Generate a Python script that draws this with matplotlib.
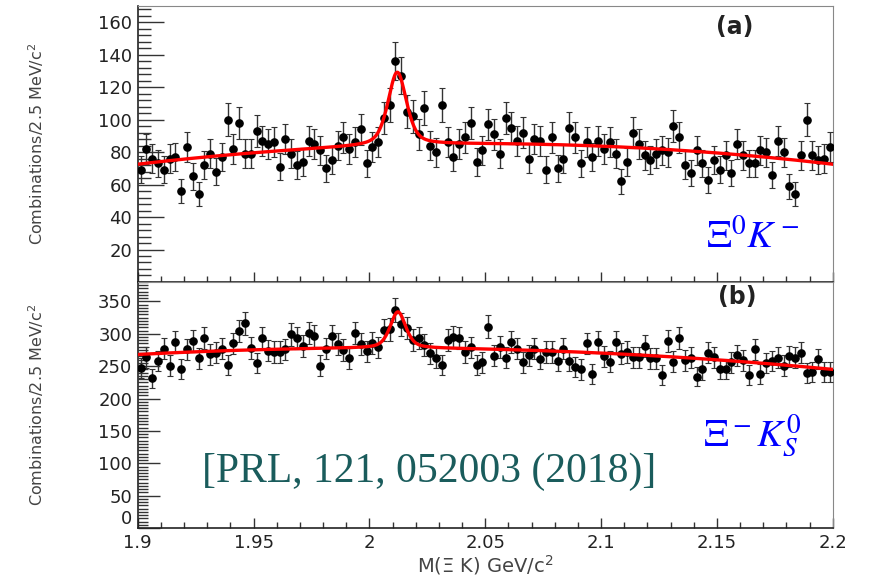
import matplotlib
matplotlib.use("Agg")
import matplotlib.pyplot as plt
import numpy as np
from matplotlib.ticker import MultipleLocator, FixedLocator

# binning: 2.5 MeV bins from 1.9 to 2.2 GeV
bin_lo = 1.9
bin_w = 0.0025
n_bins = 120

# (a) Xi0 K- combinations per bin
counts_a = [69, 82, 76, 73, 69, 76, 77, 56, 83, 65, 54, 72, 79, 68, 77, 100, 82, 98, 79, 79,
            93, 87, 85, 86, 71, 88, 79, 72, 74, 87, 85, 81, 70, 75, 84, 89, 82, 86, 94, 73,
            83, 86, 101, 109, 136, 127, 105, 102, 91, 107, 84, 80, 109, 86, 77, 85, 89, 98, 74, 81,
            97, 91, 79, 101, 95, 87, 92, 76, 88, 87, 69, 89, 70, 76, 95, 89, 73, 86, 77, 87,
            82, 86, 79, 62, 74, 92, 85, 78, 75, 79, 81, 80, 96, 89, 72, 67, 81, 73, 63, 75,
            69, 78, 67, 85, 78, 73, 73, 81, 80, 66, 87, 80, 59, 54, 78, 100, 78, 75, 76, 83]

# (b) Xi- KS0 combinations per bin
counts_b = [247, 264, 231, 258, 277, 251, 288, 246, 276, 289, 262, 293, 268, 271, 277, 252, 285, 304, 316, 278,
            255, 293, 274, 272, 272, 276, 299, 293, 281, 301, 297, 251, 277, 297, 284, 275, 262, 301, 284, 273,
            286, 279, 306, 307, 337, 315, 309, 290, 294, 283, 270, 263, 252, 291, 295, 293, 272, 279, 252, 256,
            311, 266, 280, 263, 288, 277, 256, 267, 277, 261, 272, 272, 258, 277, 258, 249, 245, 285, 238, 288,
            265, 257, 288, 269, 272, 264, 264, 281, 262, 262, 237, 289, 257, 293, 259, 263, 234, 245, 271, 264,
            246, 246, 256, 267, 259, 237, 276, 238, 255, 258, 263, 251, 265, 263, 271, 240, 241, 261, 241, 241]

# fit parameters (peak + quadratic background around 2.05)
fit_a = dict(mass=2.012, fwhm=0.0095, amp=45.0, bg=(85.0, 0.0, -555.0))
fit_b = dict(mass=2.0123, fwhm=0.0080, amp=56.0, bg=(276.2, -76.7, -876.0))

x_ticks = [1.9, 1.95, 2.0, 2.05, 2.1, 2.15, 2.2]
x_tick_labels = ["1.9", "1.95", "2", "2.05", "2.1", "2.15", "2.2"]
ylab = "Combinations/2.5 MeV/c$^2$"


def fit_curve(x, p):
    t = x - 2.05
    c0, c1, c2 = p["bg"]
    bg = c0 + c1 * t + c2 * t ** 2
    hw = p["fwhm"] / 2
    d = x - p["mass"]
    lor = hw ** 2 / (d ** 2 + hw ** 2)
    sig = p["fwhm"] / 2.3548
    gau = np.exp(-0.5 * (d / sig) ** 2)
    return bg + p["amp"] * (0.5 * lor + 0.5 * gau)


centers = bin_lo + bin_w * (np.arange(n_bins) + 0.5)
xf = np.linspace(1.9, 2.2, 1200)

fig = plt.figure(figsize=(8.72, 5.75), dpi=100)
ax1 = fig.add_axes([0.158, 0.5096, 0.797, 0.4800])
ax2 = fig.add_axes([0.158, 0.0817, 0.797, 0.4279])

for ax, cnt, p, ymax in [(ax1, counts_a, fit_a, 170), (ax2, counts_b, fit_b, 380)]:
    cnt = np.array(cnt)
    ax.errorbar(centers, cnt, yerr=np.sqrt(cnt), fmt="o", color="black", ms=5.2,
                ecolor="#333333", elinewidth=1.0, capsize=2, capthick=0.8, zorder=3)
    ax.plot(xf, fit_curve(xf, p), color="#ff0000", lw=2.4, zorder=4)
    ax.set_xlim(1.9, 2.2)
    ax.set_ylim(0, ymax)
    ax.xaxis.set_major_locator(FixedLocator(x_ticks))
    ax.xaxis.set_minor_locator(MultipleLocator(0.01))
    ax.tick_params(axis="both", which="both", direction="in", colors="#333333",
                   labelcolor="#222222", labelsize=13)
    ax.tick_params(axis="x", which="major", length=7, width=1, pad=4)
    ax.tick_params(axis="x", which="minor", length=4, width=1)
    for s in ["top", "right"]:
        ax.spines[s].set_color("#888888")
    for s in ["left", "bottom"]:
        ax.spines[s].set_color("#222222")
        ax.spines[s].set_linewidth(1.2)
    ax.set_ylabel(ylab, fontsize=11.5, color="#444444")
    ax.yaxis.set_label_coords(-0.132, 0.5)

ax1.set_yticks([20, 40, 60, 80, 100, 120, 140, 160])
ax1.yaxis.set_minor_locator(MultipleLocator(4))
ax1.tick_params(axis="y", which="major", length=19, width=1, pad=4)
ax1.tick_params(axis="y", which="minor", length=9, width=1)
ax1.tick_params(axis="x", labelbottom=False)

ax2.set_yticks([0, 50, 100, 150, 200, 250, 300, 350])
ax2.yaxis.set_minor_locator(MultipleLocator(5))
ax2.tick_params(axis="y", which="major", length=16, width=1, pad=4)
ax2.tick_params(axis="y", which="minor", length=7, width=1)
ax2.set_xticklabels(x_tick_labels)
ax2.set_xlabel(r"M($\Xi$ K) GeV/c$^2$", fontsize=14, color="#444444")
ax2.xaxis.set_label_coords(0.5, -0.1)
ax2.xaxis.label.set_va("top")

# lift the "0" label a little so it sits just above "1.9"
fig.canvas.draw()
ax2.get_yticklabels()[0].set_va("bottom")

# panel labels and annotations
fig.text(0.843, 0.953, "(a)", fontsize=17, fontweight="bold", color="#222222",
         ha="center", va="center")
fig.text(0.845, 0.483, "(b)", fontsize=17, fontweight="bold", color="#222222",
         ha="center", va="center")
plt.rcParams["mathtext.fontset"] = "stix"
fig.text(0.810, 0.5687, r"$\mathrm{\Xi}^0K^-$", fontsize=28, color="#0000ff",
         ha="left", va="baseline")
fig.text(0.806, 0.223, r"$\mathrm{\Xi}^-K_S^0$", fontsize=28, color="#0000ff",
         ha="left", va="baseline")
fig.text(0.2317, 0.1623, "[PRL, 121, 052003 (2018)]", fontsize=30, color="#1a5c5c",
         family="Liberation Serif", ha="left", va="baseline")

fig.savefig("out.png", dpi=100)
